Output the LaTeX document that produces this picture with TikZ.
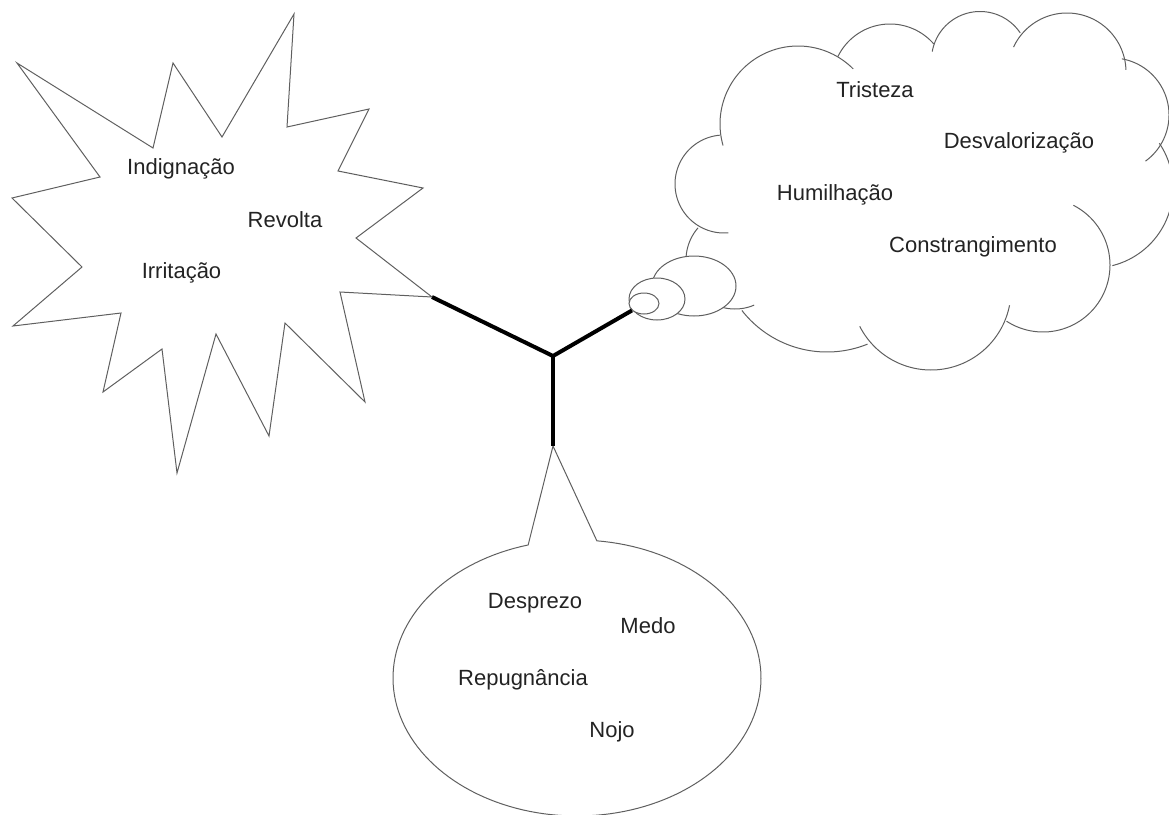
\documentclass[tikz,border=0pt]{standalone}
\usepackage{fontspec}
\setmainfont{Liberation Sans}
\usetikzlibrary{shapes.geometric}
\definecolor{linegray}{RGB}{95,95,95}
\definecolor{textgray}{RGB}{35,35,35}
\tikzset{
  outline/.style={draw=linegray, line width=1pt, line join=miter},
  conn/.style={draw=black, line width=4pt},
  word/.style={font=\fontsize{22}{26}\selectfont, text=textgray, anchor=base, inner sep=0pt},
  bubble/.style={ellipse, outline, fill=white, inner sep=0pt},
}
\newcommand\cloudarc[5]{\draw[outline] plot[domain=#4:#5, samples=60] ({#1+#3*cos(\x)},{#2+#3*sin(\x)});}
\begin{document}
\begin{tikzpicture}[x=1pt, y=-1pt]
\useasboundingbox (0,0) rectangle (1169,814);
\clip (0,0) rectangle (1169,814);

% starburst
\draw[outline] (17,63) -- (153,148) -- (173,63) -- (222,137) -- (294,14) -- (287,127)
  -- (369,109) -- (338,171) -- (423,188) -- (356,238) -- (432,297) coordinate (burstpt)
  -- (340,292) -- (365,402) -- (285,323) -- (269,436) -- (216,334) -- (177,473)
  -- (162,349) -- (103,392) -- (121,313) -- (13,326) -- (82,267) -- (12,198)
  -- (100,177) -- cycle;

% cloud
\cloudarc{724}{184}{49}{85}{265}
\cloudarc{798}{124}{78}{164}{315}
\cloudarc{890}{82}{58}{206}{319}
\cloudarc{980}{60}{48.5}{190}{326}
\cloudarc{1067}{72}{59}{205}{358}
\cloudarc{1112}{115}{57}{280}{414}
\cloudarc{1093}{188}{80}{326}{436}
\cloudarc{1043}{265}{67}{297}{483}
\cloudarc{931}{290}{80}{11}{153}
\cloudarc{827}{244}{108}{68}{142}
\cloudarc{735}{260}{49}{67}{221}

% thought bubbles
\node[bubble, minimum width=84pt, minimum height=60pt] (b1) at (694,286) {};
\node[bubble, minimum width=56pt, minimum height=42pt] (b2) at (657,299) {};
\node[bubble, minimum width=30pt, minimum height=21pt] (b3) at (644,303.5) {};

% speech bubble (ellipse with pointer)
\coordinate (tip) at (553,446);
\draw[outline] (tip) -- plot[domain=276.2:614.6, samples=150] ({577+184*cos(\x)},{678+138*sin(\x)}) -- cycle;

% connectors
\coordinate (junction) at (553,356);
\draw[conn] (burstpt) -- (junction) -- (b3);
\draw[conn] (junction) -- (tip);

% words
\node[word] (indig) at (181,174) {Indignação};
\node[word] (revol) at (285,227) {Revolta};
\node[word] (irrit) at (181.5,278) {Irritação};
\node[word] (trist) at (875,97) {Tristeza};
\node[word] (desva) at (1019,148) {Desvalorização};
\node[word] (humil) at (835,200) {Humilhação};
\node[word] (const) at (973,252) {Constrangimento};
\node[word] (despr) at (535,608) {Desprezo};
\node[word] (medo) at (648,633) {Medo};
\node[word] (repug) at (523,685) {Repugnância};
\node[word] (nojo) at (612,737) {Nojo};
\end{tikzpicture}
\end{document}
